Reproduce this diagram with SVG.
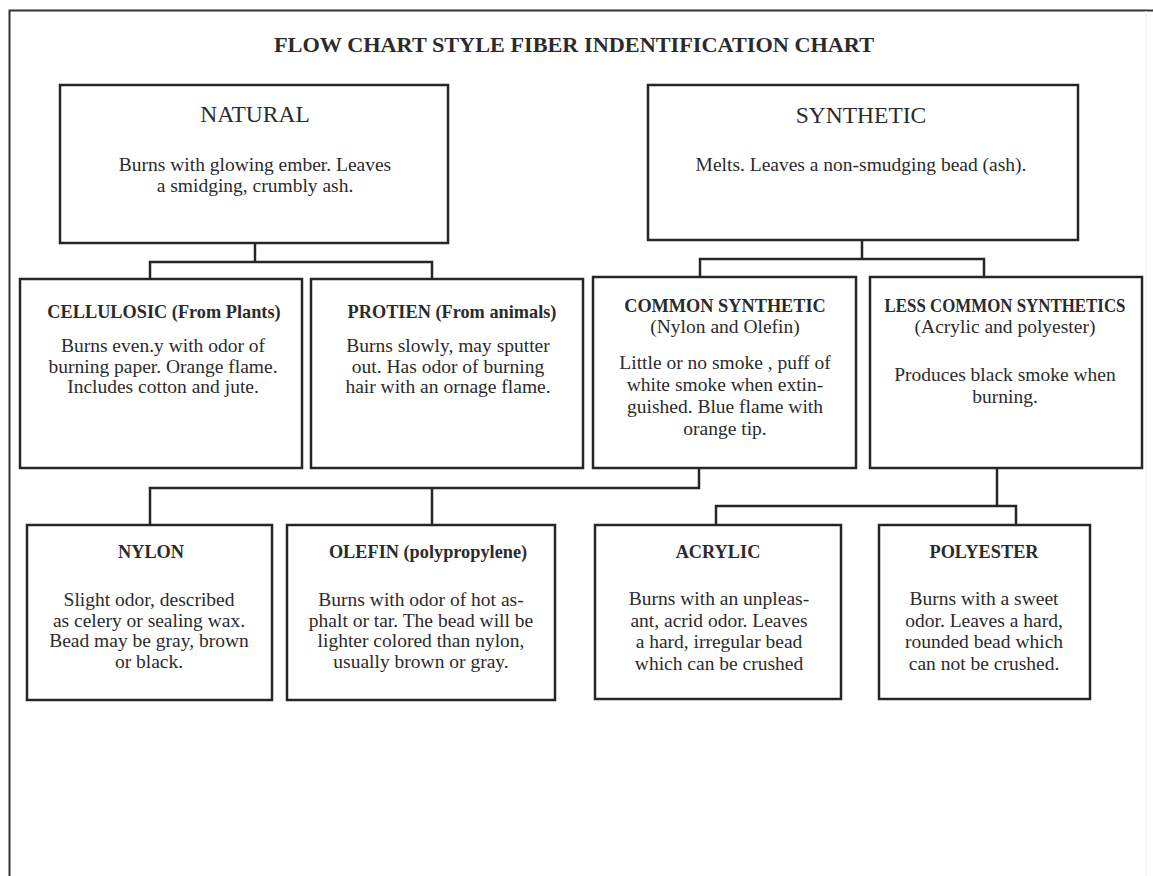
<svg xmlns="http://www.w3.org/2000/svg" width="1153" height="876" viewBox="0 0 1153 876">
<style>
.box{fill:#fff;stroke:#262626;stroke-width:2.5}
.conn{fill:none;stroke:#262626;stroke-width:2.5}
text{font-family:"Liberation Serif","Times New Roman",serif;fill:#2b2b2b;text-anchor:middle}
.title{font-size:22px;font-weight:bold}
.big{font-size:23.5px}
.hd{font-size:18.3px;font-weight:bold}
.bd{font-size:19.5px}
</style>
<rect width="1153" height="876" fill="#fff"/>
<g id="frame">
<path d="M9.5 877 V10.5 H1153" fill="none" stroke="#333" stroke-width="2"/>
<line x1="1146" y1="11" x2="1146" y2="876" stroke="#eee" stroke-width="1"/>
</g>
<text class="title" x="574" y="52" textLength="600" lengthAdjust="spacingAndGlyphs">FLOW CHART STYLE FIBER INDENTIFICATION CHART</text>
<g id="connectors">
<path class="conn" d="M255 243 V262 M150 279 V262 H432 V279"/>
<path class="conn" d="M862 240 V259 M700 277 V259 H984 V277"/>
<path class="conn" d="M699 468 V488 H150 V525 M432 488 V525"/>
<path class="conn" d="M997 468 V506 M716 525 V506 H1016 V525"/>
</g>
<g id="natural">
<rect class="box" x="60" y="85" width="388" height="158"/>
<text class="big" x="255" y="122">NATURAL</text>
<text class="bd" x="255" y="171">Burns with glowing ember. Leaves</text>
<text class="bd" x="255" y="192">a smidging, crumbly ash.</text>
</g>
<g id="synthetic">
<rect class="box" x="648" y="85" width="430" height="155"/>
<text class="big" x="861" y="123">SYNTHETIC</text>
<text class="bd" x="861" y="171">Melts. Leaves a non-smudging bead (ash).</text>
</g>
<g id="cellulosic">
<rect class="box" x="20" y="279" width="282" height="189"/>
<text class="hd" x="164" y="318">CELLULOSIC (From Plants)</text>
<text class="bd" x="163" y="352">Burns even.y with odor of</text>
<text class="bd" x="163" y="373">burning paper. Orange flame.</text>
<text class="bd" x="163" y="393">Includes cotton and jute.</text>
</g>
<g id="protien">
<rect class="box" x="311" y="279" width="272" height="189"/>
<text class="hd" x="452" y="318">PROTIEN (From animals)</text>
<text class="bd" x="448" y="352">Burns slowly, may sputter</text>
<text class="bd" x="448" y="373">out. Has odor of burning</text>
<text class="bd" x="448" y="393">hair with an ornage flame.</text>
</g>
<g id="common-synthetic">
<rect class="box" x="593" y="277" width="263" height="191"/>
<text class="hd" x="725" y="312">COMMON SYNTHETIC</text>
<text class="bd" x="725" y="333">(Nylon and Olefin)</text>
<text class="bd" x="725" y="369">Little or no smoke , puff of</text>
<text class="bd" x="725" y="391">white smoke when extin-</text>
<text class="bd" x="725" y="413">guished. Blue flame with</text>
<text class="bd" x="725" y="435">orange tip.</text>
</g>
<g id="less-common">
<rect class="box" x="870" y="277" width="272" height="191"/>
<text class="hd" x="1005" y="312" textLength="241" lengthAdjust="spacingAndGlyphs">LESS COMMON SYNTHETICS</text>
<text class="bd" x="1005" y="333">(Acrylic and polyester)</text>
<text class="bd" x="1005" y="381">Produces black smoke when</text>
<text class="bd" x="1005" y="403">burning.</text>
</g>
<g id="nylon">
<rect class="box" x="27" y="525" width="245" height="175"/>
<text class="hd" x="151" y="558">NYLON</text>
<text class="bd" x="149" y="606">Slight odor, described</text>
<text class="bd" x="149" y="627">as celery or sealing wax.</text>
<text class="bd" x="149" y="647">Bead may be gray, brown</text>
<text class="bd" x="149" y="668">or black.</text>
</g>
<g id="olefin">
<rect class="box" x="287" y="525" width="268" height="175"/>
<text class="hd" x="428" y="558">OLEFIN  (polypropylene)</text>
<text class="bd" x="421" y="606">Burns with odor of hot as-</text>
<text class="bd" x="421" y="627">phalt or tar. The bead will be</text>
<text class="bd" x="421" y="647">lighter colored than nylon,</text>
<text class="bd" x="421" y="668">usually brown or gray.</text>
</g>
<g id="acrylic">
<rect class="box" x="595" y="525" width="246" height="174"/>
<text class="hd" x="718" y="558">ACRYLIC</text>
<text class="bd" x="719" y="605">Burns with an unpleas-</text>
<text class="bd" x="719" y="627">ant, acrid odor. Leaves</text>
<text class="bd" x="719" y="648">a hard, irregular bead</text>
<text class="bd" x="719" y="670">which can be crushed</text>
</g>
<g id="polyester">
<rect class="box" x="879" y="525" width="211" height="174"/>
<text class="hd" x="984" y="558">POLYESTER</text>
<text class="bd" x="984" y="605">Burns with a sweet</text>
<text class="bd" x="984" y="627">odor. Leaves a hard,</text>
<text class="bd" x="984" y="648">rounded bead which</text>
<text class="bd" x="984" y="670">can not be crushed.</text>
</g>
</svg>
